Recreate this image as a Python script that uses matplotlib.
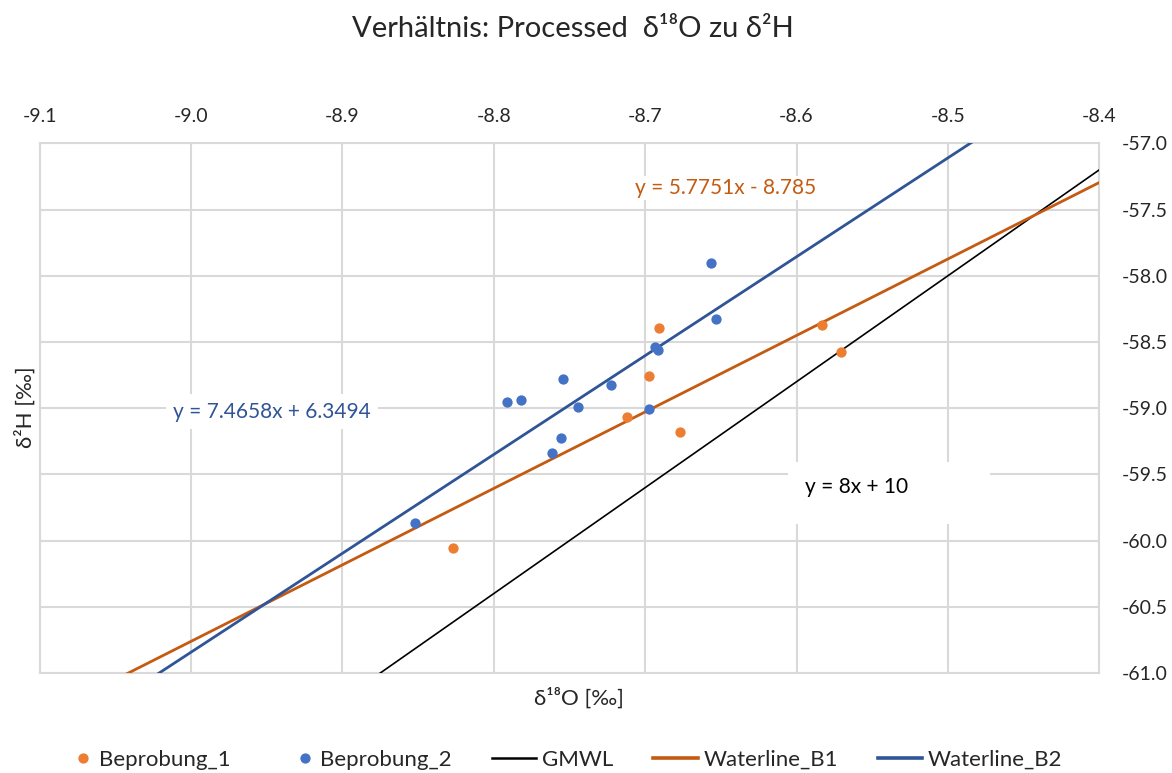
import numpy as np
import matplotlib
matplotlib.use("Agg")
import matplotlib.pyplot as plt
from matplotlib.ticker import FormatStrFormatter, MultipleLocator
from matplotlib.patches import Rectangle
from matplotlib.lines import Line2D
from matplotlib.legend_handler import HandlerLine2D

# data
b1_x = [-8.6911, -8.6974, -8.7123, -8.6768, -8.5834, -8.5706, -8.8267]
b1_y = [-58.392, -58.754, -59.063, -59.179, -58.374, -58.573, -60.059]

b2_x = [-8.6565, -8.6532, -8.6934, -8.6918, -8.7540, -8.7229, -8.7911,
        -8.7819, -8.7441, -8.6977, -8.7556, -8.7618, -8.8521]
b2_y = [-57.906, -58.329, -58.535, -58.560, -58.779, -58.824, -58.955,
        -58.937, -58.988, -59.003, -59.222, -59.337, -59.865]

# trendlines (slope, intercept) as shown in the chart
gmwl = (8.0, 10.0)
line_b1 = (5.7751, -8.785)
line_b2 = (7.4658, 6.3494)

x_min, x_max = -9.1, -8.4
y_min, y_max = -61.0, -57.0

plt.rcParams['font.family'] = ['Lato', 'Noto Sans', 'DejaVu Sans']
plt.rcParams['axes.unicode_minus'] = False
txt = '#262626'
grid = '#D9D9D9'


class MarkerRight(HandlerLine2D):
    # put the legend marker near the label, like Excel does
    def get_xdata(self, legend, xdescent, ydescent, width, height, fontsize):
        m = -xdescent + width - 0.45 * fontsize
        xdata = np.array([m - 1, m + 1])
        return xdata, [m]


fig = plt.figure(figsize=(11.72, 7.73), dpi=100)
ax = fig.add_axes([0.03387, 0.12937, 0.9041, 0.6852])

xs = np.array([x_min, x_max])
ax.plot(xs, gmwl[0] * xs + gmwl[1], color='black', lw=1.2, zorder=3)
ax.plot(xs, line_b1[0] * xs + line_b1[1], color='#C55A11', lw=2.0, zorder=3)
ax.plot(xs, line_b2[0] * xs + line_b2[1], color='#2F5597', lw=2.0, zorder=3)
ax.scatter(b1_x, b1_y, s=55, color='#ED7D31', zorder=4, linewidths=0)
ax.scatter(b2_x, b2_y, s=55, color='#4472C4', zorder=4, linewidths=0)

ax.set_xlim(x_min, x_max)
ax.set_ylim(y_min, y_max)
ax.xaxis.set_major_locator(MultipleLocator(0.1))
ax.yaxis.set_major_locator(MultipleLocator(0.5))
ax.xaxis.set_major_formatter(FormatStrFormatter('%.1f'))
ax.yaxis.set_major_formatter(FormatStrFormatter('%.1f'))
ax.xaxis.tick_top()
ax.yaxis.tick_right()
ax.tick_params(length=0, labelsize=14, labelcolor=txt)
ax.tick_params(axis='x', pad=13)
ax.tick_params(axis='y', pad=16)
ax.grid(True, color=grid, lw=1.5, zorder=0)
ax.set_axisbelow(True)
for s in ax.spines.values():
    s.set_color(grid)
    s.set_linewidth(1.5)

# equation labels
ax.text(0.6477, 0.915, 'y = 5.7751x - 8.785', transform=ax.transAxes, ha='center', va='center',
        fontsize=15, color='#C55A11', zorder=5,
        bbox=dict(boxstyle='square,pad=0.1', fc='white', ec='none'))
ax.text(0.219, 0.4933, 'y = 7.4658x + 6.3494', transform=ax.transAxes, ha='center', va='center',
        fontsize=15, color='#2F5597', zorder=5,
        bbox=dict(boxstyle='square,pad=0.35', fc='white', ec='none'))
ax.add_patch(Rectangle((0.7062, 0.2813), 0.1908, 0.117, transform=ax.transAxes,
                       fc='white', ec='none', zorder=2.5))
ax.text(0.771, 0.3517, 'y = 8x + 10', transform=ax.transAxes, ha='center', va='center',
        fontsize=15, color='black', zorder=5)

fig.text(0.489, 0.962, 'Verhältnis: Processed  δ¹⁸O zu δ²H', ha='center', va='center',
         fontsize=21, color=txt)
fig.text(0.494, 1 - 698 / 773, 'δ¹⁸O [‰]', ha='center', va='center', fontsize=16, color=txt)
fig.text(0.0213, 1 - 407 / 773, 'δ²H [‰]', ha='center', va='center', rotation=90,
         fontsize=16, color=txt)

# legend
p1 = Line2D([], [], ls='none', marker='o', ms=7.4, color='#ED7D31', mec='none')
p2 = Line2D([], [], ls='none', marker='o', ms=7.4, color='#4472C4', mec='none')
handles = [p1, p2,
           Line2D([], [], color='black', lw=1.8),
           Line2D([], [], color='#C55A11', lw=2.6),
           Line2D([], [], color='#2F5597', lw=2.6)]
labels = ['Beprobung_1', 'Beprobung_2', 'GMWL', 'Waterline_B1', 'Waterline_B2']
fig.legend(handles, labels, loc='center', ncol=5,
           bbox_to_anchor=(0.474, 1 - 760 / 773), frameon=False, fontsize=16,
           handlelength=2.0, handletextpad=0.25, columnspacing=1.8,
           labelcolor=txt, handler_map={p1: MarkerRight(numpoints=1), p2: MarkerRight(numpoints=1)})

fig.savefig('out.png', dpi=100)
